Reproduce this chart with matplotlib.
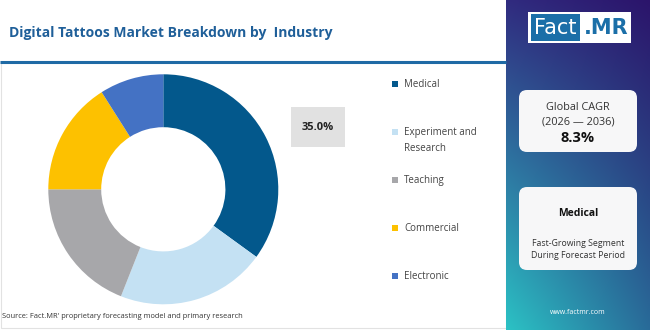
import matplotlib
matplotlib.use("Agg")
import matplotlib.pyplot as plt
import numpy as np
from matplotlib.patches import Rectangle, FancyBboxPatch

categories = ["Medical", "Experiment and\nResearch", "Teaching", "Commercial", "Electronic"]
values = [35.0, 21.0, 19.0, 16.0, 9.0]
colors = ["#03588c", "#c4e1f3", "#a7a7aa", "#fdc100", "#4472c4"]
highlight_label = "35.0%"
title = "Digital Tattoos Market Breakdown by  Industry"
source = "Source: Fact.MR' proprietary forecasting model and primary research"
cagr_period = "(2026 \u2014 2036)"
cagr_value = "8.3%"
segment = "Medical"

plt.rcParams['font.family'] = ['Open Sans', 'DejaVu Sans']

W, H = 650, 330
fig = plt.figure(figsize=(W / 100, H / 100), dpi=100)
fig.patch.set_facecolor("white")

# background overlay axes in pixel coords
bg = fig.add_axes([0, 0, 1, 1])
bg.set_xlim(0, W)
bg.set_ylim(H, 0)
bg.axis("off")

# left panel border
bg.add_patch(Rectangle((0.5, 62), 505.5, 266, facecolor="white", edgecolor="#e2e2e2", lw=0.8, zorder=0))
bg.plot([0, 506], [62, 62], color="#1f6aa5", lw=2.2, zorder=2, solid_capstyle="butt")

# gradient panel
px0, px1 = 506, 650
nx, ny = 80, 160
xs = np.linspace(0, 1, nx)
ys = np.linspace(0, 1, ny)
X, Y = np.meshgrid(xs, ys)
tl = np.array([0.19, 0.17, 0.50])
tr = np.array([0.17, 0.08, 0.42])
bl = np.array([0.17, 0.76, 0.77])
br = np.array([0.16, 0.42, 0.60])
img = ((1 - X)[..., None] * (1 - Y)[..., None] * tl + X[..., None] * (1 - Y)[..., None] * tr
       + (1 - X)[..., None] * Y[..., None] * bl + X[..., None] * Y[..., None] * br)
bg.imshow(img, extent=(px0, px1, H, 0), aspect="auto", zorder=1, interpolation="bilinear")
bg.set_xlim(0, W)
bg.set_ylim(H, 0)

# logo
bg.add_patch(Rectangle((528, 12), 103, 31, facecolor="white", edgecolor="none", zorder=3))
bg.add_patch(Rectangle((530.5, 14), 49, 27, facecolor="#1b6fa8", edgecolor="none", zorder=4))
bg.text(555, 28, "Fact", color="white", fontsize=15, ha="center", va="center", zorder=5,
        family=["DejaVu Sans"])
bg.text(606, 28, ".MR", color="#1b6fa8", fontsize=15, ha="center", va="center", zorder=5,
        fontweight="bold", family=["DejaVu Sans"])

# cards
for (y0, h) in [(90, 62), (187, 83)]:
    bg.add_patch(FancyBboxPatch((522, y0 + 3), 112, h - 6,
                                boxstyle="round,pad=3,rounding_size=8",
                                facecolor="#f7f7f8", edgecolor="none", zorder=3))
cx = 578
bg.text(cx, 108, "Global CAGR", fontsize=7.8, ha="center", va="center", color="#333333", zorder=5)
bg.text(cx, 122, cagr_period, fontsize=7.8, ha="center", va="center", color="#333333", zorder=5)
bg.text(cx, 138, cagr_value, fontsize=10.5, fontweight="bold", ha="center", va="center", color="#111111", zorder=5)
bg.text(cx, 213, segment, fontsize=7.5, fontweight="bold", ha="center", va="center", color="#111111", zorder=5)
bg.text(cx, 243, "Fast-Growing Segment", fontsize=6.3, ha="center", va="center", color="#333333", zorder=5)
bg.text(cx, 256, "During Forecast Period", fontsize=6.3, ha="center", va="center", color="#333333", zorder=5)
bg.text(cx, 313, "www.factmr.com", fontsize=5, ha="center", va="center", color="white", zorder=5)

# title & source
bg.text(9, 33, title, fontsize=10, fontweight="bold", color="#1f5f99", ha="left", va="center", zorder=5)
bg.text(2, 316, source, fontsize=5.4, color="#333333", ha="left", va="center", zorder=5)

# highlight label
bg.add_patch(Rectangle((291, 107), 54, 40, facecolor="#e1e1e1", edgecolor="none", zorder=3))
bg.text(318, 127, highlight_label, fontsize=8, fontweight="bold", color="#222222", ha="center", va="center", zorder=5)

# legend
leg_y = [84, 132, 180, 228, 276]
for lab, col, y in zip(categories, colors, leg_y):
    bg.add_patch(Rectangle((392, y - 3), 6, 6, facecolor=col, edgecolor="none", zorder=4))
    bg.text(404, y - 5, lab, fontsize=7, color="#444444", ha="left", va="top",
            linespacing=1.65, zorder=5)

# donut
cxp, cyp, R = 163.3, 189.3, 115
ax = fig.add_axes([(cxp - R) / W, (H - cyp - R) / H, 2 * R / W, 2 * R / H])
ax.pie(values, colors=colors, startangle=90, counterclock=False, radius=1,
       wedgeprops=dict(width=0.46, edgecolor="none"))
ax.set_xlim(-1, 1)
ax.set_ylim(-1, 1)
ax.set_aspect("equal")
ax.axis("off")

fig.savefig("out.png", dpi=100, facecolor="white")
